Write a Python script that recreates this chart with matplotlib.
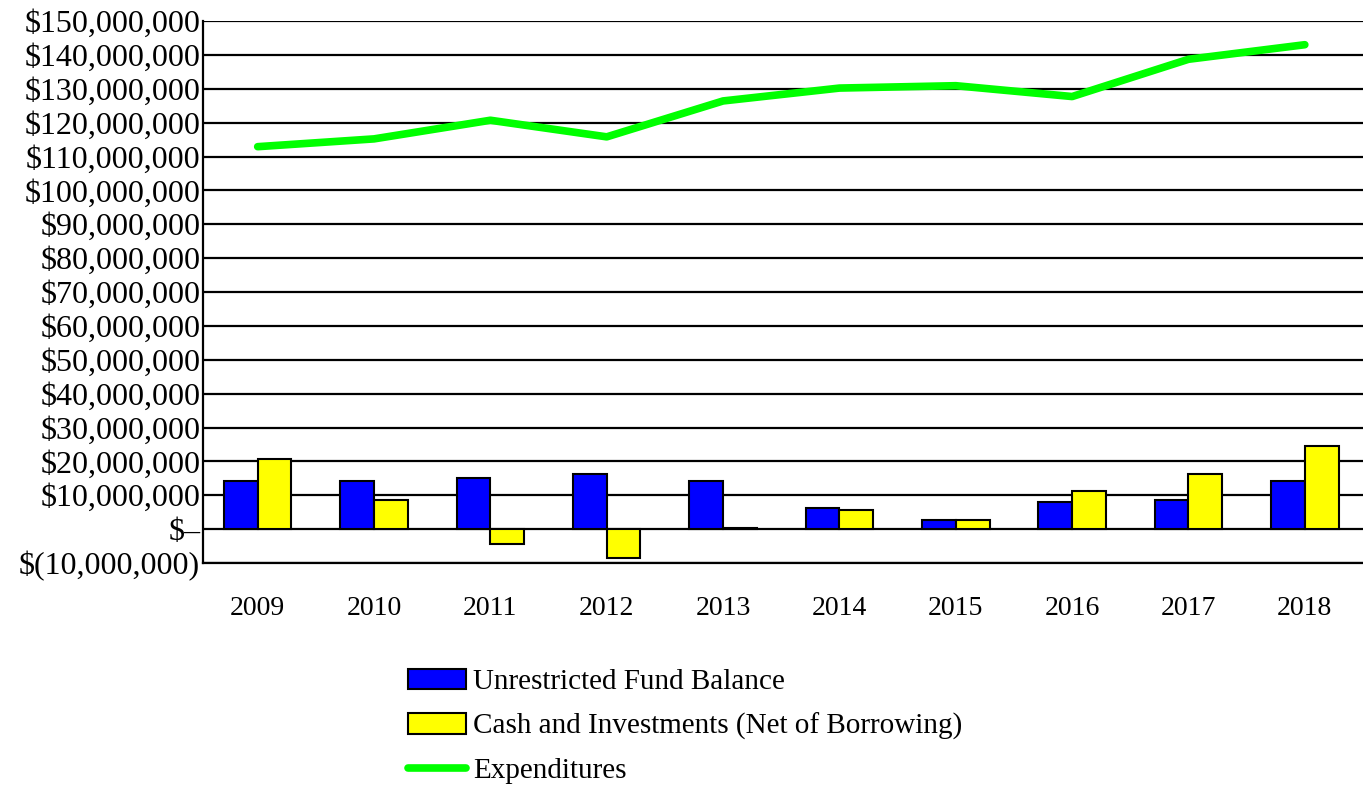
import matplotlib
matplotlib.use("Agg")
import matplotlib.pyplot as plt
from matplotlib.ticker import FuncFormatter, MultipleLocator
import numpy as np

years = ["2009", "2010", "2011", "2012", "2013", "2014", "2015", "2016", "2017", "2018"]
fund_balance = [14.3, 14.3, 15.0, 16.4, 14.3, 6.3, 2.8, 7.9, 8.5, 14.3]
cash_invest = [20.6, 8.5, -4.3, -8.4, 0.3, 5.6, 2.7, 11.4, 16.4, 24.4]
expenditures = [112.9, 115.2, 120.7, 115.8, 126.4, 130.2, 130.9, 127.7, 138.7, 143.0]

plt.rcParams['font.family'] = ['Liberation Serif', 'DejaVu Serif']

fig = plt.figure(figsize=(13.63, 7.85), dpi=100)
ax = fig.add_axes([203/1363, 1-563/785, 1-203/1363, (563-21)/785])

x = np.arange(len(years))
w = 0.29
scale = 1e6
b1 = ax.bar(x - w/2, np.array(fund_balance)*scale, w, color='#0000FF', edgecolor='black',
            linewidth=1.5, label='Unrestricted Fund Balance', zorder=3)
b2 = ax.bar(x + w/2, np.array(cash_invest)*scale, w, color='#FFFF00', edgecolor='black',
            linewidth=1.5, label='Cash and Investments (Net of Borrowing)', zorder=3)
ln, = ax.plot(x, np.array(expenditures)*scale, color='#00FF00', linewidth=5.5,
              solid_capstyle='round', label='Expenditures', zorder=4)

ax.set_xlim(-0.47, 9.5)
ax.set_ylim(-10e6, 150e6)
ax.yaxis.set_major_locator(MultipleLocator(10e6))


def money(v, pos):
    v = int(round(v))
    if v == 0:
        return "$\u2013"
    if v < 0:
        return "$({:,})".format(-v)
    return "${:,}".format(v)


ax.yaxis.set_major_formatter(FuncFormatter(money))
ax.set_xticks(x)
ax.set_xticklabels(years)
ax.grid(axis='y', color='black', linewidth=1.6, zorder=1)
ax.set_axisbelow(True)
for s in ['top', 'right']:
    ax.spines[s].set_visible(False)
ax.spines['left'].set_linewidth(1.6)
ax.spines['bottom'].set_linewidth(1.6)
ax.tick_params(axis='x', length=0, labelsize=20, pad=24)
ax.tick_params(axis='y', length=0, labelsize=23, pad=2)

fig.legend([b1, b2, ln], [b1.get_label(), b2.get_label(), ln.get_label()],
           loc='upper left', bbox_to_anchor=(396/1363, 1-657/785), frameon=False,
           fontsize=21, handlelength=2.0, handletextpad=0.25, labelspacing=0.6,
           borderaxespad=0)

fig.savefig("out.png", dpi=100)
